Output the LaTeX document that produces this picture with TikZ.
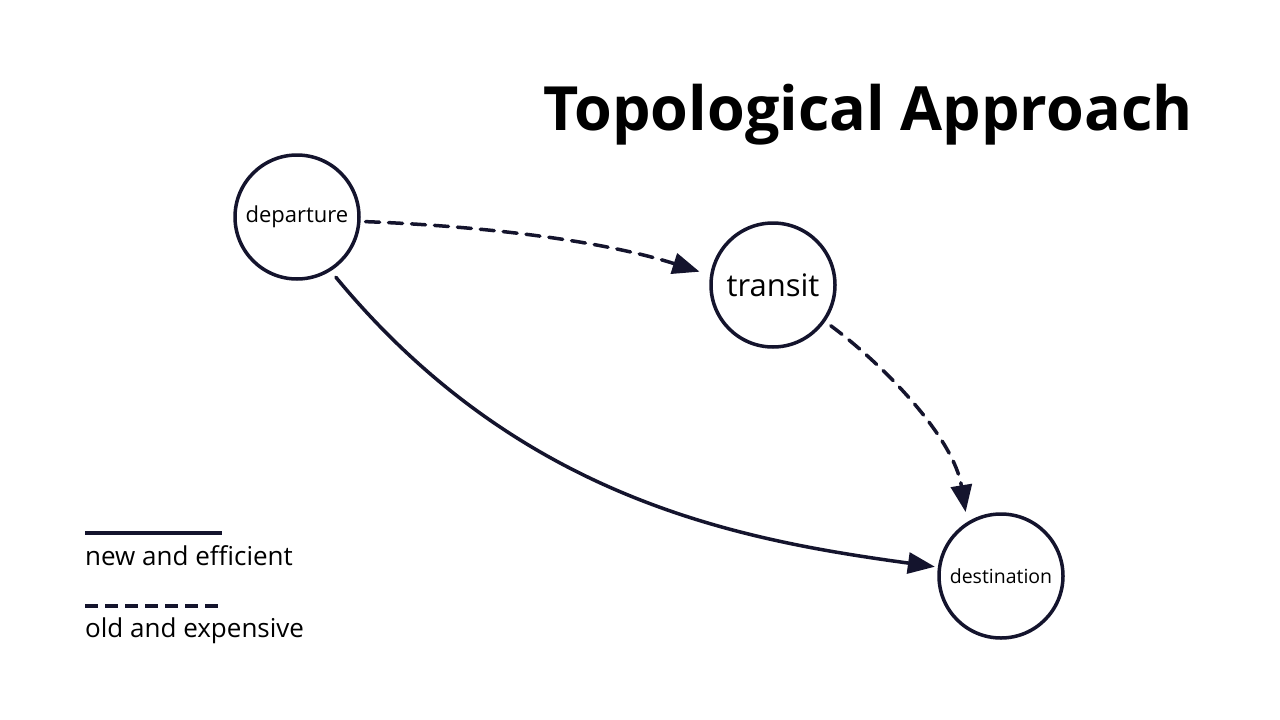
\documentclass[tikz,border=0pt]{standalone}
\usepackage{fontspec}
\setmainfont{Open Sans}
\usetikzlibrary{arrows.meta}
\definecolor{ink}{RGB}{20,20,45}
\tikzset{
  circ/.style={circle, draw=ink, line width=3.5pt, minimum size=124pt, inner sep=0pt, text=black},
  conn/.style={draw=ink, line width=3.5pt, -{Triangle[length=27pt,width=21pt]}, line cap=round},
  dashconn/.style={conn, dash pattern=on 14pt off 9pt},
  legendline/.style={draw=ink, line width=4pt},
  legendtext/.style={anchor=base west, inner sep=0pt, text=black, font=\fontsize{26}{30}\selectfont},
}
\begin{document}
\begin{tikzpicture}[x=1pt, y=-1pt]
\useasboundingbox (0,0) rectangle (1280,720);
\fill[white] (0,0) rectangle (1280,720);

\node[anchor=base, inner sep=0pt, font=\fontsize{61}{70}\selectfont\bfseries] (title) at (868,130) {Topological Approach};

\node[circ, font=\fontsize{22}{26}\selectfont] (dep) at (297,217) {departure};
\node[circ, font=\fontsize{31}{36}\selectfont] (tr) at (773,285) {transit};
\node[circ, font=\fontsize{19.5}{24}\selectfont] (dst) at (1001,576) {destination};

\draw[dashconn, shorten <=5pt, shorten >=11pt] (dep.-4) .. controls (480,226) and (600,240) .. (tr.171);
\draw[dashconn, shorten <=7pt, shorten >=10pt] (tr.-35) .. controls (890,370) and (954,440) .. (dst.122);
\draw[conn, shorten <=8pt, shorten >=3pt] (dep.-58) .. controls (520,500) and (740,540) .. (dst.172);

\coordinate (l1a) at (85,533);
\coordinate (l1b) at (222,533);
\draw[legendline] (l1a) -- (l1b);
\node[legendtext] (t1) at (85,565) {new and efficient};

\coordinate (l2a) at (85,606);
\coordinate (l2b) at (218,606);
\draw[legendline, dash pattern=on 13pt off 7pt] (l2a) -- (l2b);
\node[legendtext] (t2) at (85,637) {old and expensive};
\end{tikzpicture}
\end{document}
